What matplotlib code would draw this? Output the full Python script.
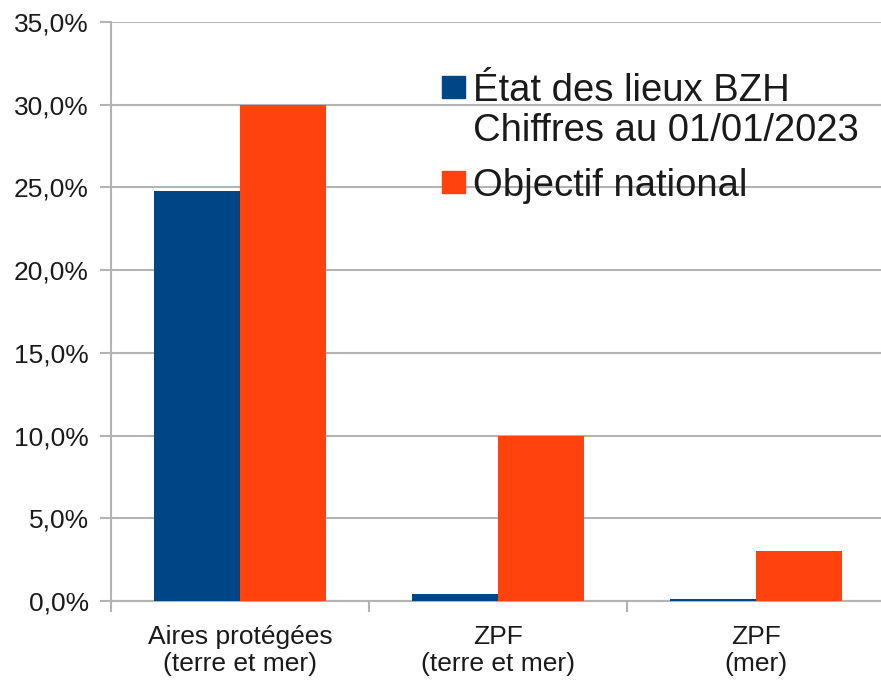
import matplotlib.pyplot as plt
from matplotlib.patches import Rectangle
from matplotlib.ticker import FuncFormatter, FixedLocator

plt.rcParams['font.family'] = ['Liberation Sans', 'DejaVu Sans']

# ---- data ----
categories = ['Aires protégées\n(terre et mer)', 'ZPF\n(terre et mer)', 'ZPF\n(mer)']
etat_bzh = [24.8, 0.4, 0.15]
objectif = [30.0, 10.0, 3.0]
series_labels = ['État des lieux BZH\nChiffres au 01/01/2023', 'Objectif national']

BLUE = '#004586'
ORANGE = '#ff420e'
GRID = '#b3b3b3'
TEXT = '#1a1a1a'

W, H = 881, 680
fig = plt.figure(figsize=(W / 100, H / 100), dpi=100)
ax = fig.add_axes([111 / W, 79 / H, 774 / W, 579 / H])

x = list(range(len(categories)))
bw = 1 / 3
ax.bar([i - bw / 2 for i in x], etat_bzh, width=bw, color=BLUE, zorder=3)
ax.bar([i + bw / 2 for i in x], objectif, width=bw, color=ORANGE, zorder=3)

ax.set_xlim(-0.5, len(categories) - 0.5)
ax.set_ylim(0, 35)
ax.set_yticks(range(0, 36, 5))
ax.yaxis.set_major_formatter(FuncFormatter(lambda v, p: f'{v:.1f}%'.replace('.', ',')))
ax.yaxis.grid(True, color=GRID, linewidth=1.5, zorder=0)

ax.set_xticks(x)
ax.set_xticklabels(categories, linespacing=1.2)
ax.xaxis.set_minor_locator(FixedLocator([i - 0.5 for i in range(len(categories) + 1)]))

ax.tick_params(axis='y', labelsize=19, colors=GRID, labelcolor=TEXT,
               length=8, width=1.5, pad=8)
ax.tick_params(axis='x', which='major', labelsize=19, labelcolor=TEXT,
               length=0, pad=17)
ax.tick_params(axis='x', which='minor', colors=GRID, length=8, width=1.5)

for side in ['top', 'right']:
    ax.spines[side].set_visible(False)
for side in ['left', 'bottom']:
    ax.spines[side].set_color(GRID)
    ax.spines[side].set_linewidth(1.5)

# ---- legend, handle aligned with first text line ----
legend_rows = [(87, BLUE, series_labels[0]), (182, ORANGE, series_labels[1])]
for yc, col, label in legend_rows:
    fig.add_artist(Rectangle((442 / W, 1 - (yc + 11) / H), 23 / W, 22 / H,
                             transform=fig.transFigure, color=col))
    for k, line in enumerate(label.split('\n')):
        fig.text(473 / W, 1 - (yc + 40 * k) / H, line, fontsize=27.5,
                 color=TEXT, va='center_baseline', ha='left')

fig.savefig('out.png', dpi=100)
